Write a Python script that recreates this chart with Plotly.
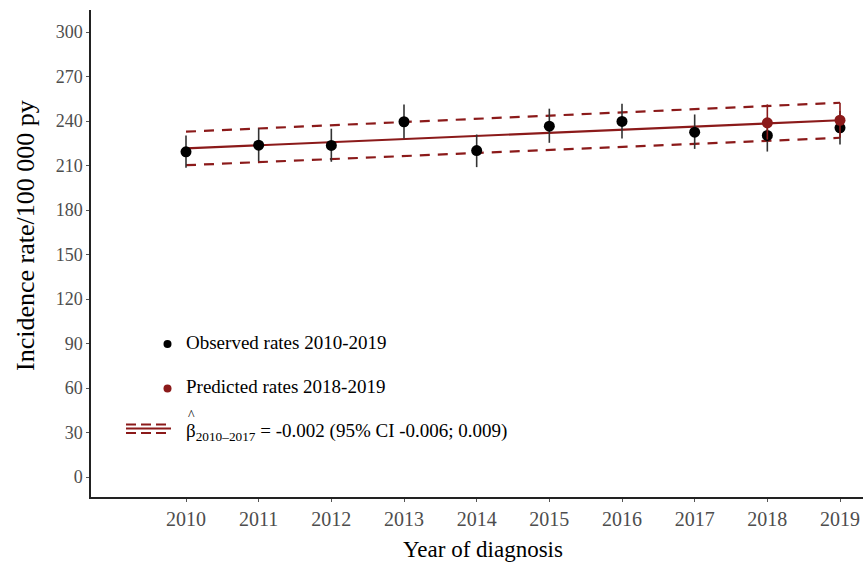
import plotly.graph_objects as go

# ---------------- data ----------------
years = [2010, 2011, 2012, 2013, 2014, 2015, 2016, 2017, 2018, 2019]
observed = [219.2, 223.7, 223.5, 239.5, 220.1, 236.5, 239.7, 232.5, 230.3, 235.4]
observed_lo = [208.4, 212.9, 212.5, 228.2, 208.9, 225.3, 228.2, 221.2, 219.4, 224.2]
observed_hi = [230.2, 235.0, 234.8, 251.2, 230.9, 248.3, 251.6, 244.4, 241.5, 246.8]

pred_years = [2018, 2019]
predicted = [238.8, 240.5]
predicted_lo = [227.5, 228.7]
predicted_hi = [251.2, 252.3]

fit_years = [2010, 2019]
fit = [221.5, 240.5]
fit_lo = [210.2, 228.7]
fit_hi = [232.8, 252.3]

y_ticks = [0, 30, 60, 90, 120, 150, 180, 210, 240, 270, 300]

RED = "#8B1A1A"
FONT = "Liberation Serif, Times New Roman, serif"

W, H = 863, 564
L, R, T, B = 91, 0, 10, 67
PW, PH = W - L - R, H - T - B


def px(x):
    return (x - L) / PW


def py(y):
    return (H - B - y) / PH


fig = go.Figure()

# CI dashed lines
for ci in (fit_lo, fit_hi):
    fig.add_trace(go.Scatter(x=fit_years, y=ci, mode="lines",
                             line=dict(color=RED, width=2.2, dash="10px,8px"),
                             hoverinfo="skip", showlegend=False))
# fitted line
fig.add_trace(go.Scatter(x=fit_years, y=fit, mode="lines",
                         line=dict(color=RED, width=2.2),
                         hoverinfo="skip", showlegend=False))
# observed
fig.add_trace(go.Scatter(
    x=years, y=observed, mode="markers",
    marker=dict(color="black", size=11),
    error_y=dict(type="data", symmetric=False,
                 array=[h - v for h, v in zip(observed_hi, observed)],
                 arrayminus=[v - l for l, v in zip(observed_lo, observed)],
                 color="#333333", thickness=1.6, width=0),
    showlegend=False))
# predicted
fig.add_trace(go.Scatter(
    x=pred_years, y=predicted, mode="markers",
    marker=dict(color=RED, size=11),
    error_y=dict(type="data", symmetric=False,
                 array=[h - v for h, v in zip(predicted_hi, predicted)],
                 arrayminus=[v - l for l, v in zip(predicted_lo, predicted)],
                 color=RED, thickness=1.6, width=0),
    showlegend=False))

# axis ranges (pixel-matched)
x_scale = 654 / 9.0
x0 = 2010 - (186 - L) / x_scale
x1 = x0 + PW / x_scale
y_scale = 445 / 300.0
y1 = 300 + (32 - T) / y_scale
y0 = y1 - PH / y_scale

shapes = []
annotations = []

# custom legend
shapes.append(dict(type="circle", xref="paper", yref="paper",
                   xsizemode="pixel", ysizemode="pixel",
                   xanchor=px(167.5), yanchor=py(344),
                   x0=-4, x1=4, y0=-4, y1=4,
                   fillcolor="black", line=dict(width=0)))
shapes.append(dict(type="circle", xref="paper", yref="paper",
                   xsizemode="pixel", ysizemode="pixel",
                   xanchor=px(167.5), yanchor=py(388.5),
                   x0=-4, x1=4, y0=-4, y1=4,
                   fillcolor=RED, line=dict(width=0)))
for yy, dsh in ((424.5, "10px,5px"), (428.5, "solid"), (433, "10px,5px")):
    shapes.append(dict(type="line", xref="paper", yref="paper",
                       x0=px(126), x1=px(171), y0=py(yy), y1=py(yy),
                       line=dict(color=RED, width=2.2, dash=dsh)))

legend_font = dict(family=FONT, size=19, color="black")
annotations.append(dict(text="Observed rates 2010-2019", xref="paper", yref="paper",
                        x=px(184), y=py(342), xanchor="left", yanchor="middle",
                        showarrow=False, font=legend_font))
annotations.append(dict(text="Predicted rates 2018-2019", xref="paper", yref="paper",
                        x=px(184), y=py(386), xanchor="left", yanchor="middle",
                        showarrow=False, font=legend_font))
annotations.append(dict(text="\u03b2<sub>2010\u20132017</sub> = -0.002 (95% CI -0.006; 0.009)",
                        xref="paper", yref="paper",
                        x=px(184), y=py(432), xanchor="left", yanchor="middle",
                        showarrow=False, font=legend_font))
# hat over beta
annotations.append(dict(text="^", xref="paper", yref="paper",
                        x=px(191), y=py(415), xanchor="center", yanchor="middle",
                        showarrow=False,
                        font=dict(family=FONT, size=14, color="black")))

# axis titles
annotations.append(dict(text="Incidence rate/100 000 py", xref="paper", yref="paper",
                        x=px(25), y=py(236), xanchor="center", yanchor="middle",
                        textangle=-90, showarrow=False,
                        font=dict(family=FONT, size=26, color="black")))
annotations.append(dict(text="Year of diagnosis", xref="paper", yref="paper",
                        x=px(483), y=py(549), xanchor="center", yanchor="middle",
                        showarrow=False,
                        font=dict(family=FONT, size=23, color="black")))

fig.update_layout(
    width=W, height=H,
    margin=dict(l=L, r=R, t=T, b=B, pad=0),
    paper_bgcolor="white", plot_bgcolor="white",
    showlegend=False,
    shapes=shapes, annotations=annotations,
    xaxis=dict(range=[x0, x1], tickmode="array", tickvals=years,
               ticktext=[str(y) for y in years],
               showgrid=False, zeroline=False,
               showline=True, linecolor="#222222", linewidth=1.5,
               ticks="outside", ticklen=3, tickcolor="#555555", tickwidth=1,
               tickfont=dict(family=FONT, size=20, color="#4D4D4D")),
    yaxis=dict(range=[y0, y1], tickmode="array", tickvals=y_ticks,
               showgrid=False, zeroline=False,
               showline=True, linecolor="#222222", linewidth=1.5,
               ticks="outside", ticklen=3, tickcolor="#555555", tickwidth=1,
               tickfont=dict(family=FONT, size=18, color="#4D4D4D")),
)

fig.write_html("out.html", config={"displayModeBar": False},
               post_script="document.body.style.margin='0px';document.body.style.padding='0px';")
